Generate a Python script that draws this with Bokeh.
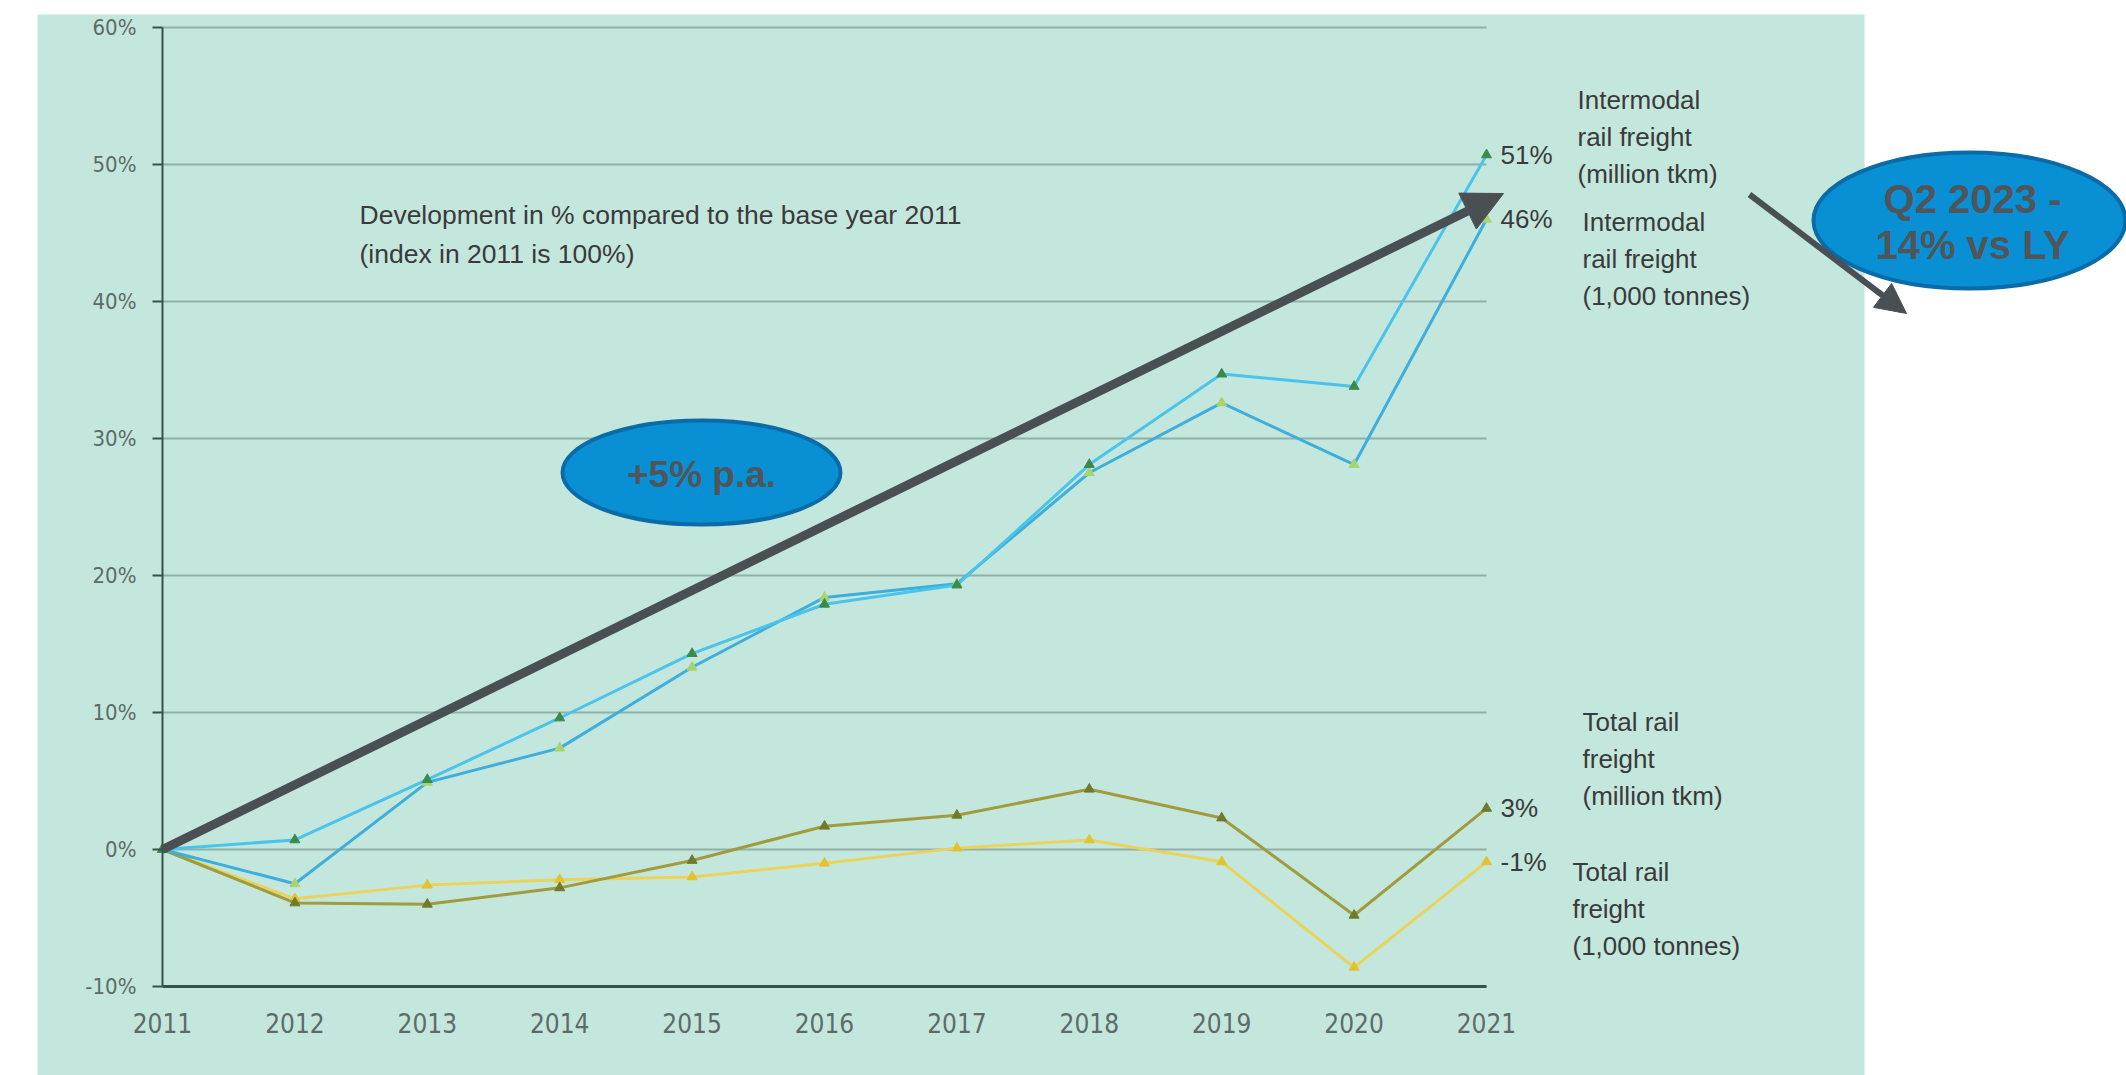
from bokeh.plotting import figure
from bokeh.models import (Range1d, LinearAxis, FixedTicker, PrintfTickFormatter, Grid,
                          BoxAnnotation, Label, Arrow, NormalHead)
from bokeh.embed import file_html
from bokeh.resources import INLINE

# ---------------- data ----------------
years = [2011, 2012, 2013, 2014, 2015, 2016, 2017, 2018, 2019, 2020, 2021]
intermodal_tkm = [0, 0.7, 5.1, 9.6, 14.3, 17.9, 19.3, 28.1, 34.7, 33.8, 50.7]
intermodal_tonnes = [0, -2.5, 4.9, 7.4, 13.3, 18.4, 19.4, 27.5, 32.6, 28.1, 46.0]
total_tkm = [0, -3.9, -4.0, -2.8, -0.8, 1.7, 2.5, 4.4, 2.3, -4.8, 3.0]
total_tonnes = [0, -3.6, -2.6, -2.2, -2.0, -1.0, 0.1, 0.7, -0.9, -8.6, -0.9]
end_labels = ["51%", "46%", "3%", "-1%"]
series_names = [
    ["Intermodal", "rail freight", "(million tkm)"],
    ["Intermodal", "rail freight", "(1,000 tonnes)"],
    ["Total rail", "freight", "(million tkm)"],
    ["Total rail", "freight", "(1,000 tonnes)"],
]
y_ticks = [-10, 0, 10, 20, 30, 40, 50, 60]
note_lines = ["Development in % compared to the base year 2011", "(index in 2011 is 100%)"]
bubble1_lines = ["+5% p.a."]
bubble2_lines = ["Q2 2023 -", "14% vs LY"]

# ---------------- geometry ----------------
W, H = 2126, 1075
X0PX, X1PX = 162, 1486      # pixel of 2011 / 2021
Y60PX, YM10PX = 27, 986     # pixel of 60% / -10%
ppx = (X1PX - X0PX) / 10.0
ppy = (YM10PX - Y60PX) / 70.0


def dx(px):
    return 2011 + (px - X0PX) / ppx


def dy(py):
    return 60 - (py - Y60PX) / ppy


p = figure(width=W, height=H, toolbar_location=None, output_backend="svg",
           x_range=Range1d(dx(0), dx(W)), y_range=Range1d(dy(H), dy(0)),
           x_axis_location=None, y_axis_location=None, min_border=0,
           background_fill_color="white", border_fill_color="white",
           outline_line_color=None)
p.grid.visible = False

BG = "#c4e7dd"
GRID = "#8fb0a6"
AXIS = "#34534b"
TXT = "#3a3a3a"
FONT = "Liberation Sans"
NARROW = "'Liberation Sans Narrow', 'DejaVu Sans Condensed', sans-serif"

# mint panel
p.add_layout(BoxAnnotation(left=dx(37), right=dx(1864), top=dy(14), bottom=dy(H + 5),
                           fill_color=BG, fill_alpha=1, line_color=None, level="image"))

# grid
yg = Grid(dimension=1, ticker=FixedTicker(ticks=y_ticks), cross_bounds=(2011, 2021),
          grid_line_color=GRID, grid_line_width=2)
p.add_layout(yg, "center")

# axes
yaxis = LinearAxis(fixed_location=2011, bounds=(-10, 60), ticker=FixedTicker(ticks=y_ticks),
                   formatter=PrintfTickFormatter(format="%d%%"),
                   major_tick_out=10, major_tick_in=0, minor_tick_out=0, minor_tick_in=0,
                   axis_line_color=AXIS, axis_line_width=2, major_tick_line_color=AXIS,
                   major_tick_line_width=2, major_label_standoff=16,
                   major_label_text_font=NARROW,
                   major_label_text_font_size="22px", major_label_text_color="#5d6b67")
p.add_layout(yaxis, "left")

xaxis = LinearAxis(fixed_location=-10, bounds=(2011, 2021), ticker=FixedTicker(ticks=years),
                   formatter=PrintfTickFormatter(format="%d"),
                   major_tick_out=0, major_tick_in=0, minor_tick_out=0, minor_tick_in=0,
                   axis_line_color=AXIS, axis_line_width=3, major_label_standoff=26,
                   major_label_text_font=NARROW,
                   major_label_text_font_size="26px", major_label_text_color="#5d6b67")
p.add_layout(xaxis, "below")

# series
series = [
    (total_tonnes, "#ead35c", "#e2c232"),
    (total_tkm, "#a09c3e", "#6f7a2c"),
    (intermodal_tonnes, "#3eaedd", "#a9d36e"),
    (intermodal_tkm, "#4cc3ea", "#3b8a4c"),
]
for vals, lc, mc in series:
    p.line(years, vals, line_color=lc, line_width=3)
    p.scatter(years, vals, marker="triangle", size=10, fill_color=mc, line_color=mc)

# end value labels
end_vals = [intermodal_tkm[-1], intermodal_tonnes[-1], total_tkm[-1], total_tonnes[-1]]
for txt, v in zip(end_labels, end_vals):
    p.add_layout(Label(x=years[-1], y=v, text=txt, x_offset=14, text_baseline="middle",
                       text_align="left", text_font=FONT, text_font_size="26px",
                       text_color=TXT))

# series names
name_pos = [(1577, 99), (1582, 221), (1582, 721), (1572, 871)]
for (px, py), lines in zip(name_pos, series_names):
    for i, line in enumerate(lines):
        p.add_layout(Label(x=dx(px), y=dy(py + i * 37), text=line, text_baseline="middle",
                           text_align="left", text_font=FONT, text_font_size="26px",
                           text_color=TXT))

# note
for i, line in enumerate(note_lines):
    p.add_layout(Label(x=dx(359), y=dy(214 + i * 39), text=line, text_baseline="middle",
                       text_align="left", text_font=FONT, text_font_size="26.5px",
                       text_color=TXT))

# bubbles
BLUE = "#0990d4"
BLUE_EDGE = "#0a6ba6"
GRAYTXT = "#50555a"
p.ellipse(x=[dx(701)], y=[dy(472)], width=278 / ppx, height=104 / ppy,
          fill_color=BLUE, line_color=BLUE_EDGE, line_width=4)
p.add_layout(Label(x=dx(701), y=dy(474), text=bubble1_lines[0], text_align="center",
                   text_baseline="middle", text_font=FONT, text_font_style="bold",
                   text_font_size="37px", text_color=GRAYTXT))

p.ellipse(x=[dx(1969)], y=[dy(220)], width=312 / ppx, height=136 / ppy,
          fill_color=BLUE, line_color=BLUE_EDGE, line_width=4)
for i, line in enumerate(bubble2_lines):
    p.add_layout(Label(x=dx(1972), y=dy(198 + i * 46), text=line, text_align="center",
                       text_baseline="middle", text_font=FONT, text_font_style="bold",
                       text_font_size="40px", text_color=GRAYTXT))

# arrows
ARROW = "#4a4f54"
p.add_layout(Arrow(x_start=2011, y_start=0, x_end=dx(1503), y_end=dy(193),
                   line_color=ARROW, line_width=9,
                   end=NormalHead(size=40, fill_color=ARROW, line_color=ARROW, line_width=1)))
p.add_layout(Arrow(x_start=dx(1749), y_start=dy(194), x_end=dx(1906), y_end=dy(313),
                   line_color=ARROW, line_width=6,
                   end=NormalHead(size=30, fill_color=ARROW, line_color=ARROW, line_width=1)))

open("out.html", "w").write(file_html(p, INLINE))
